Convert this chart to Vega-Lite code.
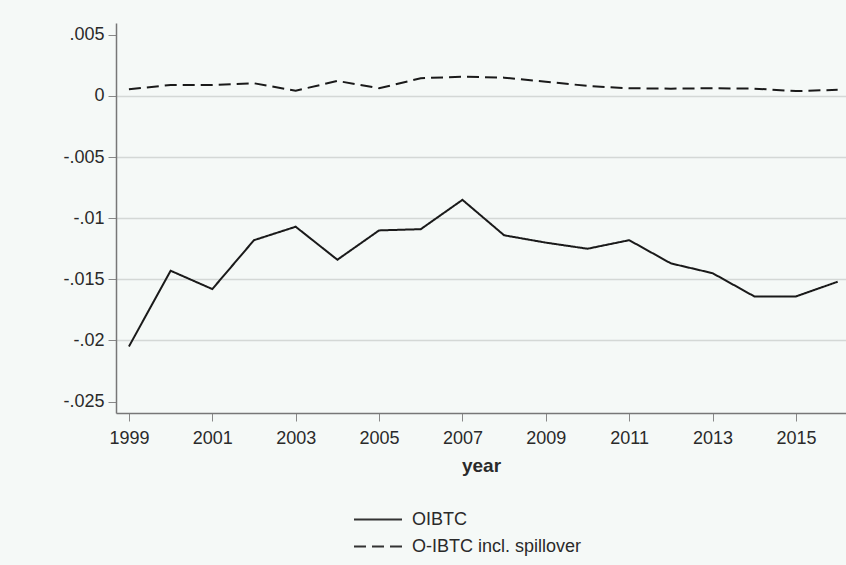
{
  "$schema": "https://vega.github.io/schema/vega-lite/v6.json",
  "width": 730,
  "height": 390,
  "autosize": {"type": "none"},
  "padding": {"left": 116, "top": 23, "right": 0, "bottom": 152},
  "background": "#f5f9f7",
  "config": {
    "view": {"stroke": null, "fill": "#f5f9f7"},
    "font": "Liberation Sans"
  },
  "data": {
    "values": [
      {"year": 1999, "value": -0.0205, "series": "OIBTC"},
      {"year": 2000, "value": -0.0143, "series": "OIBTC"},
      {"year": 2001, "value": -0.0158, "series": "OIBTC"},
      {"year": 2002, "value": -0.0118, "series": "OIBTC"},
      {"year": 2003, "value": -0.0107, "series": "OIBTC"},
      {"year": 2004, "value": -0.0134, "series": "OIBTC"},
      {"year": 2005, "value": -0.0110, "series": "OIBTC"},
      {"year": 2006, "value": -0.0109, "series": "OIBTC"},
      {"year": 2007, "value": -0.0085, "series": "OIBTC"},
      {"year": 2008, "value": -0.0114, "series": "OIBTC"},
      {"year": 2009, "value": -0.0120, "series": "OIBTC"},
      {"year": 2010, "value": -0.0125, "series": "OIBTC"},
      {"year": 2011, "value": -0.0118, "series": "OIBTC"},
      {"year": 2012, "value": -0.0137, "series": "OIBTC"},
      {"year": 2013, "value": -0.0145, "series": "OIBTC"},
      {"year": 2014, "value": -0.0164, "series": "OIBTC"},
      {"year": 2015, "value": -0.0164, "series": "OIBTC"},
      {"year": 2016, "value": -0.0152, "series": "OIBTC"},
      {"year": 1999, "value": 0.00055, "series": "O-IBTC incl. spillover"},
      {"year": 2000, "value": 0.0009, "series": "O-IBTC incl. spillover"},
      {"year": 2001, "value": 0.0009, "series": "O-IBTC incl. spillover"},
      {"year": 2002, "value": 0.00104, "series": "O-IBTC incl. spillover"},
      {"year": 2003, "value": 0.00043, "series": "O-IBTC incl. spillover"},
      {"year": 2004, "value": 0.00123, "series": "O-IBTC incl. spillover"},
      {"year": 2005, "value": 0.00063, "series": "O-IBTC incl. spillover"},
      {"year": 2006, "value": 0.00145, "series": "O-IBTC incl. spillover"},
      {"year": 2007, "value": 0.00158, "series": "O-IBTC incl. spillover"},
      {"year": 2008, "value": 0.0015, "series": "O-IBTC incl. spillover"},
      {"year": 2009, "value": 0.00117, "series": "O-IBTC incl. spillover"},
      {"year": 2010, "value": 0.00082, "series": "O-IBTC incl. spillover"},
      {"year": 2011, "value": 0.00063, "series": "O-IBTC incl. spillover"},
      {"year": 2012, "value": 0.0006, "series": "O-IBTC incl. spillover"},
      {"year": 2013, "value": 0.00063, "series": "O-IBTC incl. spillover"},
      {"year": 2014, "value": 0.0006, "series": "O-IBTC incl. spillover"},
      {"year": 2015, "value": 0.0004, "series": "O-IBTC incl. spillover"},
      {"year": 2016, "value": 0.0005, "series": "O-IBTC incl. spillover"}
    ]
  },
  "mark": {"type": "line", "strokeWidth": 2, "color": "#1a1a1a"},
  "encoding": {
    "x": {
      "field": "year",
      "type": "quantitative",
      "scale": {"domain": [1998.69, 2016.2], "nice": false, "zero": false},
      "axis": {
        "values": [1999, 2001, 2003, 2005, 2007, 2009, 2011, 2013, 2015],
        "format": "d",
        "grid": false,
        "title": "year",
        "titleFont": "Liberation Sans",
        "titleFontSize": 19,
        "titleFontWeight": "bold",
        "titleColor": "#2a2a2a",
        "titlePadding": 9,
        "labelFontSize": 18,
        "labelColor": "#2a2a2a",
        "labelPadding": 8,
        "tickSize": 8,
        "tickColor": "#888888",
        "domainColor": "#777777",
        "domainWidth": 1.5,
        "labelFlush": false
      }
    },
    "y": {
      "field": "value",
      "type": "quantitative",
      "scale": {"domain": [-0.02594, 0.00597], "nice": false, "zero": false},
      "axis": {
        "values": [0.005, 0, -0.005, -0.01, -0.015, -0.02, -0.025],
        "labelExpr": "(datum.value < 0 ? '-' : '') + replace(format(abs(datum.value), '.3~f'), '0.', '.')",
        "title": null,
        "grid": true,
        "gridColor": {"condition": {"test": "datum.value > 0.004 || datum.value < -0.024", "value": "transparent"}, "value": "#d4d8d6"},
        "gridWidth": 1.5,
        "labelFontSize": 18,
        "labelColor": "#2a2a2a",
        "labelPadding": 4,
        "tickSize": 8,
        "tickColor": "#888888",
        "domainColor": "#777777",
        "domainWidth": 1.5
      }
    },
    "strokeDash": {
      "field": "series",
      "type": "nominal",
      "scale": {"domain": ["OIBTC", "O-IBTC incl. spillover"], "range": [[1, 0], [12, 6]]},
      "legend": {
        "title": null,
        "orient": "none",
        "legendX": 237,
        "legendY": 486,
        "direction": "vertical",
        "symbolType": "stroke",
        "symbolSize": 2304,
        "symbolStrokeWidth": 2,
        "symbolStrokeColor": "#333333",
        "clipHeight": 21,
        "labelFontSize": 18,
        "labelColor": "#2a2a2a",
        "labelOffset": 9,
        "rowPadding": 6,
        "labelLimit": 400
      }
    }
  }
}
